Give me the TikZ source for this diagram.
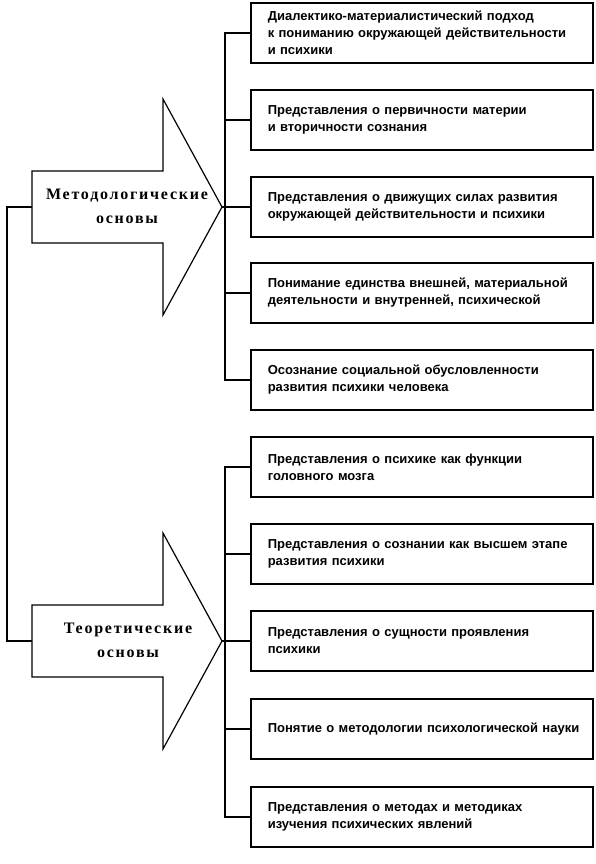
\documentclass[tikz,border=0pt]{standalone}
\usepackage{fontspec}
\setmainfont{Liberation Sans}
\newfontfamily\arrowfont[LetterSpace=11]{Liberation Serif}
\begin{document}
\begin{tikzpicture}[x=1pt,y=-1pt,
  box/.style={draw,line width=1.6pt,minimum height=60pt,text width=308pt,inner xsep=17pt,inner ysep=0pt,align=left,font=\bfseries\fontsize{13}{17}\selectfont,anchor=west},
  conn/.style={line width=1.6pt},
  bigarrow/.style={draw,line width=1.2pt,line join=miter},
  alabel/.style={align=center,font=\arrowfont\bfseries\fontsize{16}{24}\selectfont}]
\useasboundingbox (0,0) rectangle (596,864);
% top arrow
\draw[bigarrow] (32,171) -- (163,171) -- (163,99) -- (222,207) -- (163,315) -- (163,243) -- (32,243) -- cycle;
\coordinate (tailA) at (32,207);
\coordinate (tipA) at (222,207);
\node[alabel] (labA) at (127,206) {Методологические\\основы};
% bottom arrow
\draw[bigarrow] (32,605) -- (163,605) -- (163,533) -- (222,641) -- (163,749) -- (163,677) -- (32,677) -- cycle;
\coordinate (tailB) at (32,641);
\coordinate (tipB) at (222,641);
\node[alabel] (labB) at (128,640) {Теоретические\\основы};
% boxes top
\node[box] (m1) at (250,33) {Диалектико-материалистический подход\\к пониманию окружающей действительности\\и психики};
\node[box] (m2) at (250,120) {Представления о первичности материи\\и вторичности сознания};
\node[box] (m3) at (250,207) {Представления о движущих силах развития\\окружающей действительности и психики};
\node[box] (m4) at (250,293) {Понимание единства внешней, материальной\\деятельности и внутренней, психической};
\node[box] (m5) at (250,380) {Осознание социальной обусловленности\\развития психики человека};
% boxes bottom
\node[box] (t1) at (250,467) {Представления о психике как функции\\головного мозга};
\node[box] (t2) at (250,554) {Представления о сознании как высшем этапе\\развития психики};
\node[box] (t3) at (250,641) {Представления о сущности проявления\\психики};
\node[box] (t4) at (250,729) {\mbox{Понятие о методологии психологической науки}};
\node[box] (t5) at (250,817) {Представления о методах и методиках\\изучения психических явлений};
% connectors
\draw[conn] (tailA) -- ++(-25,0) |- (tailB);
\draw[conn] (m1.west) -- ++(-25,0) |- (m5.west);
\draw[conn] (m2.west) -- ++(-25,0);
\draw[conn] (m3.west) -- (tipA);
\draw[conn] (m4.west) -- ++(-25,0);
\draw[conn] (t1.west) -- ++(-25,0) |- (t5.west);
\draw[conn] (t2.west) -- ++(-25,0);
\draw[conn] (t3.west) -- (tipB);
\draw[conn] (t4.west) -- ++(-25,0);
\end{tikzpicture}
\end{document}
